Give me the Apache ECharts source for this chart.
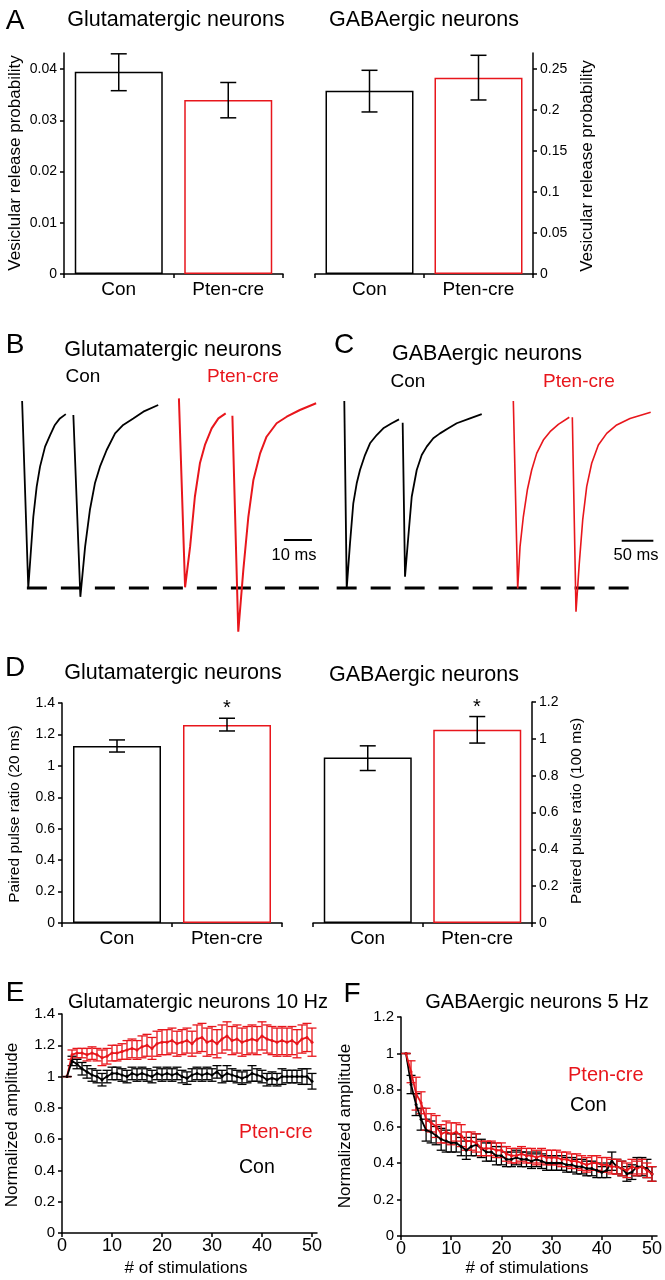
<!DOCTYPE html>
<html>
<head>
<meta charset="utf-8">
<script src="https://cdn.jsdelivr.net/npm/echarts@6/dist/echarts.min.js"></script>
<style>
  html, body { margin: 0; padding: 0; background: #fff; }
  #chart { width: 665px; height: 1280px; }
</style>
</head>
<body>
<div id="chart"></div>
<script>
  const FONT = '"Liberation Sans", Arial, sans-serif';
  const RED = '#e8161c';

  // groups for the bar panels
  const groups = ['Con', 'Pten-cre'];

  // A: vesicular release probability (mean, [low, high])
  const vrGlu = [0.0395, 0.034];
  const vrGluErr = [[0.0358, 0.043], [0.0305, 0.0374]];
  const vrGaba = [0.2235, 0.2394];
  const vrGabaErr = [[0.1976, 0.2484], [0.2122, 0.2667]];

  // D: paired pulse ratio
  const ppGlu = [1.127, 1.26];
  const ppGluErr = [[1.088, 1.165], [1.222, 1.303]];
  const ppGaba = [0.898, 1.05];
  const ppGabaErr = [[0.828, 0.962], [0.977, 1.121]];

  // tick labels
  const ticksA1 = [0, 0.01, 0.02, 0.03, 0.04];
  const ticksA2 = [0, 0.05, 0.1, 0.15, 0.2, 0.25];
  const ticksD1 = [0, 0.2, 0.4, 0.6, 0.8, 1, 1.2, 1.4];
  const ticksD2 = [0, 0.2, 0.4, 0.6, 0.8, 1, 1.2];
  const ticksE = [0, 0.2, 0.4, 0.6, 0.8, 1, 1.2, 1.4];
  const ticksF = [0, 0.2, 0.4, 0.6, 0.8, 1, 1.2];
  const ticksStim = [0, 10, 20, 30, 40, 50];

  // B / C: example traces [time ms, normalized current]
  const traceBCon = [
    [7.9, 0], [10.1, -1.0], [11.9, -0.619], [13.1, -0.458], [14.3, -0.351], [16.1, -0.244],
    [17.9, -0.182], [19.6, -0.128], [21.4, -0.093], [23.5, -0.07], null,
    [26.2, -0.075], [28.7, -1.047], [30.4, -0.779], [32.1, -0.583], [33.9, -0.44], [35.7, -0.351],
    [38.1, -0.262], [41.1, -0.173], [44.0, -0.128], [47.6, -0.093], [51.2, -0.057], [56.5, -0.021]
  ];
  const traceBPten = [
    [63.9, 0.014], [66.1, -0.996], [67.9, -0.779], [69.6, -0.512], [71.4, -0.333], [73.2, -0.235],
    [75.6, -0.146], [78.0, -0.093], [80.6, -0.066], null,
    [83.0, -0.079], [85.1, -1.234], [86.9, -0.904], [88.7, -0.619], [90.5, -0.422], [92.9, -0.28],
    [95.2, -0.191], [98.8, -0.119], [102.4, -0.084], [107.1, -0.048], [112.9, -0.012]
  ];
  const traceCCon = [
    [22.6, 0], [26.4, -1.002], [31.6, -0.761], [36.8, -0.547], [42.2, -0.44], [47.4, -0.369],
    [55.3, -0.289], [63.2, -0.226], [73.8, -0.182], [84.2, -0.146], [97.5, -0.119], [109.0, -0.098], null,
    [114.8, -0.116], [118.5, -0.94], [123.7, -0.726], [129.1, -0.512], [137.0, -0.369], [144.9, -0.289],
    [152.8, -0.244], [163.2, -0.199], [173.8, -0.173], [186.9, -0.146], [200.2, -0.119], [221.2, -0.093], [239.7, -0.07]
  ];
  const traceCPten = [
    [289.6, 0], [296.5, -1.002], [300.2, -0.779], [305.4, -0.619], [311.7, -0.476], [318.6, -0.369],
    [326.5, -0.28], [337.0, -0.209], [347.6, -0.164], [360.7, -0.125], [378.0, -0.087], null,
    [382.8, -0.087], [388.6, -1.127], [393.8, -0.868], [399.2, -0.636], [405.5, -0.458], [413.4, -0.333],
    [423.9, -0.235], [437.1, -0.173], [452.9, -0.128], [473.9, -0.093], [506.6, -0.06]
  ];
  const baselineB = [[9.6, -1], [117.8, -1]];
  const baselineC = [[10.5, -1], [480, -1]];
  const scaleB = [[101.4, -0.743], [111.4, -0.743]];
  const scaleC = [[460.8, -0.747], [510.8, -0.747]];

  // E / F: normalized amplitude vs stimulation number
  const stims = [1, 2, 3, 4, 5, 6, 7, 8, 9, 10, 11, 12, 13, 14, 15, 16, 17, 18, 19, 20, 21, 22, 23, 24, 25,
    26, 27, 28, 29, 30, 31, 32, 33, 34, 35, 36, 37, 38, 39, 40, 41, 42, 43, 44, 45, 46, 47, 48, 49, 50];
  const eCon = [1.0, 1.10, 1.08, 1.05, 1.03, 1.01, 1.0, 0.98, 1.0, 1.02, 1.02, 1.01, 1.0, 1.02, 1.01,
    1.02, 1.01, 1.0, 1.02, 1.01, 1.02, 1.01, 1.02, 1.0, 0.99, 1.01, 1.02, 1.01, 1.02, 1.01, 1.03, 1.0,
    1.02, 1.01, 1.0, 0.99, 1.0, 1.02, 1.01, 1.0, 0.98, 0.99, 0.98, 1.0, 1.0, 1.0, 1.0, 1.0, 1.0, 0.97];
  const eConErr = [0, 0.03, 0.03, 0.04, 0.04, 0.04, 0.04, 0.04, 0.04, 0.04, 0.04, 0.04, 0.04, 0.04, 0.04,
    0.04, 0.04, 0.04, 0.04, 0.04, 0.04, 0.04, 0.04, 0.04, 0.04, 0.04, 0.04, 0.04, 0.04, 0.04, 0.04, 0.04,
    0.05, 0.04, 0.04, 0.04, 0.04, 0.05, 0.04, 0.04, 0.04, 0.04, 0.04, 0.05, 0.04, 0.04, 0.04, 0.05, 0.05, 0.05];
  const ePten = [1.0, 1.14, 1.15, 1.15, 1.14, 1.15, 1.14, 1.12, 1.13, 1.15, 1.15, 1.16, 1.17, 1.18, 1.17,
    1.19, 1.20, 1.18, 1.21, 1.22, 1.22, 1.23, 1.21, 1.22, 1.23, 1.21, 1.24, 1.25, 1.22, 1.23, 1.21, 1.24,
    1.26, 1.23, 1.24, 1.22, 1.23, 1.24, 1.23, 1.26, 1.24, 1.23, 1.22, 1.23, 1.22, 1.23, 1.21, 1.24, 1.25, 1.22];
  const ePtenErr = [0, 0.03, 0.03, 0.03, 0.04, 0.04, 0.04, 0.05, 0.05, 0.05, 0.05, 0.05, 0.06, 0.06, 0.06,
    0.07, 0.07, 0.07, 0.08, 0.08, 0.08, 0.08, 0.08, 0.08, 0.08, 0.08, 0.09, 0.09, 0.09, 0.09, 0.09, 0.09,
    0.09, 0.09, 0.09, 0.09, 0.09, 0.09, 0.09, 0.09, 0.09, 0.09, 0.09, 0.09, 0.09, 0.09, 0.09, 0.09, 0.09, 0.09];
  const fCon = [1.0, 0.83, 0.72, 0.64, 0.58, 0.57, 0.55, 0.53, 0.52, 0.51, 0.51, 0.49, 0.47, 0.49, 0.50,
    0.48, 0.46, 0.46, 0.44, 0.44, 0.42, 0.42, 0.43, 0.42, 0.42, 0.41, 0.42, 0.41, 0.40, 0.40, 0.40, 0.40,
    0.39, 0.39, 0.38, 0.38, 0.37, 0.37, 0.36, 0.35, 0.36, 0.41, 0.38, 0.37, 0.34, 0.35, 0.38, 0.38, 0.37, 0.34];
  const fConErr = [0, 0.05, 0.06, 0.06, 0.06, 0.06, 0.05, 0.06, 0.06, 0.05, 0.05, 0.05, 0.05, 0.05, 0.06,
    0.05, 0.05, 0.05, 0.05, 0.05, 0.04, 0.04, 0.04, 0.04, 0.04, 0.04, 0.04, 0.04, 0.04, 0.04, 0.04, 0.04,
    0.04, 0.04, 0.04, 0.04, 0.04, 0.04, 0.04, 0.03, 0.04, 0.05, 0.04, 0.04, 0.04, 0.04, 0.05, 0.05, 0.05, 0.04];
  const fPten = [1.0, 0.90, 0.78, 0.73, 0.64, 0.62, 0.60, 0.56, 0.57, 0.56, 0.57, 0.55, 0.52, 0.52, 0.51,
    0.48, 0.48, 0.48, 0.47, 0.47, 0.45, 0.44, 0.44, 0.45, 0.44, 0.44, 0.43, 0.44, 0.43, 0.43, 0.43, 0.42,
    0.42, 0.41, 0.41, 0.40, 0.39, 0.40, 0.40, 0.39, 0.39, 0.38, 0.38, 0.37, 0.36, 0.38, 0.37, 0.38, 0.36, 0.34];
  const fPtenErr = [0, 0.06, 0.09, 0.06, 0.06, 0.05, 0.06, 0.05, 0.06, 0.06, 0.05, 0.06, 0.05, 0.05, 0.05,
    0.04, 0.04, 0.04, 0.04, 0.04, 0.04, 0.04, 0.04, 0.04, 0.04, 0.04, 0.04, 0.04, 0.04, 0.04, 0.04, 0.04,
    0.04, 0.04, 0.04, 0.04, 0.04, 0.04, 0.04, 0.04, 0.04, 0.04, 0.04, 0.04, 0.04, 0.04, 0.04, 0.04, 0.04, 0.04];

  const grids = [];
  const xAxes = [];
  const yAxes = [];
  const series = [];

  const axisLine = { show: true, lineStyle: { color: '#000', width: 1.5 } };
  const axisTick = { show: true, length: 4, lineStyle: { color: '#000', width: 1.5 } };

  function errorBar(half, color, width) {
    return function (params, api) {
      const x = api.value(0);
      const lo = api.coord([x, api.value(1)]);
      const hi = api.coord([x, api.value(2)]);
      const style = { stroke: color, lineWidth: width };
      return {
        type: 'group',
        children: [
          { type: 'line', shape: { x1: lo[0], y1: hi[1], x2: lo[0], y2: lo[1] }, style },
          { type: 'line', shape: { x1: lo[0] - half, y1: hi[1], x2: lo[0] + half, y2: hi[1] }, style },
          { type: 'line', shape: { x1: lo[0] - half, y1: lo[1], x2: lo[0] + half, y2: lo[1] }, style },
        ],
      };
    };
  }

  function barPanel(rect, yMax, ticks, means, errs, right) {
    const i = grids.length;
    grids.push({ left: rect[0], top: rect[1], width: rect[2], height: rect[3] });
    xAxes.push({
      type: 'category', gridIndex: i, data: groups,
      axisLine, axisTick,
      axisLabel: { color: '#000', fontSize: 19, fontFamily: FONT, margin: 6 },
    });
    yAxes.push({
      type: 'value', gridIndex: i, position: right ? 'right' : 'left',
      min: 0, max: yMax, splitLine: { show: false },
      axisLine, axisTick: Object.assign({ customValues: ticks }, axisTick),
      axisLabel: { customValues: ticks, color: '#000', fontSize: 14, fontFamily: FONT, margin: 7 },
    });
    series.push({
      type: 'bar', xAxisIndex: i, yAxisIndex: i, barWidth: 88, silent: true,
      data: means.map((v, k) => ({
        value: v,
        itemStyle: { color: '#fff', borderColor: k === 0 ? '#000' : RED, borderWidth: 1.5 },
      })),
    });
    series.push({
      type: 'custom', xAxisIndex: i, yAxisIndex: i, silent: true,
      encode: { x: 0, y: [1, 2] },
      renderItem: errorBar(8, '#000', 1.5),
      data: errs.map((e, k) => [k, e[0], e[1]]),
      z: 3,
    });
  }

  function tracePanel(rect, xMax, lines) {
    const i = grids.length;
    grids.push({ left: rect[0], top: rect[1], width: rect[2], height: rect[3] });
    xAxes.push({ type: 'value', gridIndex: i, min: 0, max: xMax, show: false });
    yAxes.push({ type: 'value', gridIndex: i, min: -1.3, max: 0.06, show: false });
    lines.forEach((l) => {
      series.push({
        type: 'line', xAxisIndex: i, yAxisIndex: i, data: l.data, symbol: 'none', silent: true,
        connectNulls: false,
        lineStyle: { color: l.color, width: l.width, type: l.dash || 'solid' },
      });
    });
  }

  function ampPanel(rect, yMax, ticks, sets) {
    const i = grids.length;
    grids.push({ left: rect[0], top: rect[1], width: rect[2], height: rect[3] });
    xAxes.push({
      type: 'value', gridIndex: i, min: 0, max: 51, splitLine: { show: false },
      axisLine, axisTick: Object.assign({ customValues: ticksStim }, axisTick),
      axisLabel: { customValues: ticksStim, color: '#000', fontSize: 18, fontFamily: FONT, margin: 4 },
    });
    yAxes.push({
      type: 'value', gridIndex: i, min: 0, max: yMax, splitLine: { show: false },
      axisLine, axisTick: Object.assign({ customValues: ticks }, axisTick),
      axisLabel: { customValues: ticks, color: '#000', fontSize: 15, fontFamily: FONT, margin: 7 },
    });
    sets.forEach((s) => {
      series.push({
        type: 'custom', xAxisIndex: i, yAxisIndex: i, silent: true,
        encode: { x: 0, y: [1, 2] },
        renderItem: errorBar(4.5, s.color, 1.3),
        data: stims.map((n, k) => [n, s.mean[k] - s.err[k], s.mean[k] + s.err[k]]),
      });
      series.push({
        type: 'line', xAxisIndex: i, yAxisIndex: i, silent: true,
        data: stims.map((n, k) => [n, s.mean[k]]),
        symbol: 'circle', symbolSize: 3,
        itemStyle: { color: s.color },
        lineStyle: { color: s.color, width: 1.8 },
      });
    });
  }

  barPanel([64, 53, 219, 221], 0.04316, ticksA1, vrGlu, vrGluErr, false);
  barPanel([315, 53, 218, 221], 0.2695, ticksA2, vrGaba, vrGabaErr, true);

  tracePanel([0, 389.8, 330, 254.3], 117.86, [
    { data: baselineB, color: '#000', width: 3, dash: [20, 14] },
    { data: traceBCon, color: '#000', width: 1.8 },
    { data: traceBPten, color: RED, width: 2 },
    { data: scaleB, color: '#000', width: 2 },
  ]);
  tracePanel([330, 389.8, 335, 254.3], 529.2, [
    { data: baselineC, color: '#000', width: 3, dash: [20, 14] },
    { data: traceCCon, color: '#000', width: 1.8 },
    { data: traceCPten, color: RED, width: 1.6 },
    { data: scaleC, color: '#000', width: 2 },
  ]);

  barPanel([62, 703, 220, 220], 1.4, ticksD1, ppGlu, ppGluErr, false);
  barPanel([313, 702, 219, 221], 1.2, ticksD2, ppGaba, ppGabaErr, true);

  ampPanel([62, 1014, 255, 219], 1.4, ticksE, [
    { mean: ePten, err: ePtenErr, color: RED },
    { mean: eCon, err: eConErr, color: '#000' },
  ]);
  ampPanel([401, 1017, 256, 219], 1.2, ticksF, [
    { mean: fCon, err: fConErr, color: '#000' },
    { mean: fPten, err: fPtenErr, color: RED },
  ]);

  function txt(text, x, y, size, opts) {
    opts = opts || {};
    return {
      type: 'text', x: x, y: y, rotation: opts.rot || 0, z: 10, silent: true,
      style: {
        text: text, fontSize: size, fontFamily: FONT, fill: opts.color || '#000',
        align: opts.align || 'center', verticalAlign: 'middle',
      },
    };
  }
  const up = Math.PI / 2;
  const graphics = [
    txt('A', 15, 21, 28), txt('B', 15, 345, 28), txt('C', 344, 345, 28),
    txt('D', 15, 668, 28), txt('E', 15, 993, 28), txt('F', 352, 994, 28),
    txt('Glutamatergic neurons', 176, 20, 21.5), txt('GABAergic neurons', 424, 20, 21.5),
    txt('Glutamatergic neurons', 173, 350, 21.5), txt('GABAergic neurons', 487, 354, 21.5),
    txt('Glutamatergic neurons', 173, 673, 21.5), txt('GABAergic neurons', 424, 675, 21.5),
    txt('Glutamatergic neurons 10 Hz', 198, 1002, 20), txt('GABAergic neurons 5 Hz', 537, 1002, 20),
    txt('Vesiclular release probability', 15, 163, 17, { rot: up }),
    txt('Vesicular release probability', 587, 166, 17, { rot: up }),
    txt('Paired pulse ratio (20 ms)', 15, 814, 15.5, { rot: up }),
    txt('Paired pulse ratio (100 ms)', 577, 811, 15.5, { rot: up }),
    txt('Normalized amplitude', 12, 1125, 17, { rot: up }),
    txt('Normalized amplitude', 345, 1126, 17, { rot: up }),
    txt('# of stimulations', 186, 1268, 17), txt('# of stimulations', 527, 1268, 17),
    txt('Con', 83, 377, 19), txt('Pten-cre', 243, 377, 19, { color: RED }),
    txt('Con', 408, 382, 19), txt('Pten-cre', 579, 382, 19, { color: RED }),
    txt('10 ms', 294, 555, 16.5), txt('50 ms', 636, 555, 16.5),
    txt('*', 227, 708, 20), txt('*', 477, 707, 20),
    txt('Pten-cre', 239, 1133, 19.5, { color: RED, align: 'left' }),
    txt('Con', 239, 1168, 19.5, { align: 'left' }),
    txt('Pten-cre', 568, 1075, 20, { color: RED, align: 'left' }),
    txt('Con', 570, 1105, 20, { align: 'left' }),
  ];

  const chart = echarts.init(document.getElementById('chart'));
  chart.setOption({
    animation: false,
    backgroundColor: '#fff',
    textStyle: { fontFamily: FONT },
    grid: grids,
    xAxis: xAxes,
    yAxis: yAxes,
    series: series,
    graphic: graphics,
  });
</script>
</body>
</html>
